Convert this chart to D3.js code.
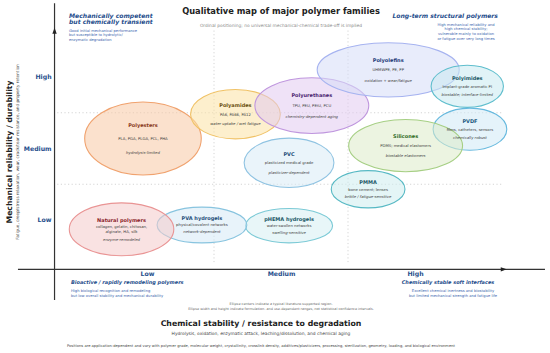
<!DOCTYPE html>
<html>
<head>
<meta charset="utf-8">
<script src="https://cdn.jsdelivr.net/npm/d3@7"></script>
<style>
body { margin: 0; background: #fff; }
svg { font-family: "DejaVu Sans", sans-serif; }
</style>
</head>
<body>
<script>
// ordinal levels used on both axes
var levels = ["Low", "Medium", "High"];

// polymer families (draw order)
var families = ["Polyesters", "Polyamides", "Polyurethanes", "Polyolefins", "Polyimides", "PVDF",
    "Silicones", "PVC", "PMMA", "pHEMA hydrogels", "PVA hydrogels", "Natural polymers"];

// ellipse centres (1 = Low, 2 = Medium, 3 = High)
var chem = [0.97, 1.66, 2.23, 2.80, 3.39, 3.41, 2.93, 2.06, 2.65, 2.06, 1.41, 0.81];
var mech = [2.14, 2.48, 2.60, 3.10, 2.87, 2.27, 2.04, 1.80, 1.43, 0.92, 0.93, 0.87];
// ellipse full width / height (ranges)
var chemRange = [0.87, 0.67, 0.85, 1.06, 0.54, 0.55, 0.85, 0.67, 0.55, 0.65, 0.67, 0.78];
var mechRange = [1.02, 0.69, 0.78, 0.76, 0.59, 0.59, 0.73, 0.69, 0.52, 0.48, 0.50, 0.74];

var details = [["PLA, PGA, PLGA, PCL, PHA"], ["PA6, PA66, PA12"], ["TPU, PEU, PEtU, PCU"],
    ["UHMWPE, PE, PP"], ["Implant-grade aromatic PI"], ["films, catheters, sensors"],
    ["PDMS; medical elastomers"], ["plasticized medical grade"], ["bone cement; lenses"],
    ["water-swollen networks"], ["physical/covalent networks"],
    ["collagen, gelatin, chitosan,", "alginate, HA, silk"]];
var notes = ["hydrolysis-limited", "water uptake / wet fatigue", "chemistry-dependent aging",
    "oxidation + wear/fatigue", "biostable; interface-limited", "chemically robust",
    "biostable elastomers", "plasticizer-dependent", "brittle / fatigue-sensitive",
    "swelling-sensitive", "network-dependent", "enzyme-remodeled"];

// fill, stroke, label colour per family
var palette = {
    "Polyesters":       ["#f8c9a4", "#f0a26e", "#8a3a1c"],
    "Polyamides":       ["#fbe2a4", "#f0c266", "#6b4f10"],
    "Polyurethanes":    ["#e2caf0", "#bf96de", "#4a2470"],
    "Polyolefins":      ["#d6ddf8", "#a6b3f0", "#1e3a78"],
    "Polyimides":       ["#c9eaf0", "#5fbecd", "#1b5866"],
    "PVDF":             ["#cfe9f5", "#66b9de", "#1c5a80"],
    "Silicones":        ["#dcebc8", "#a6cf84", "#2f6b1f"],
    "PVC":              ["#d9ebf6", "#8fc3e2", "#1f4e79"],
    "PMMA":             ["#cdecef", "#57b9c4", "#1b5866"],
    "pHEMA hydrogels":  ["#d6eff3", "#7ccad6", "#1b5866"],
    "PVA hydrogels":    ["#d6eaf5", "#88c4df", "#1f4e79"],
    "Natural polymers": ["#f4caca", "#e99494", "#8b1e2a"]
};

var W = 550, H = 353;
var svg = d3.select("body").append("svg").attr("width", W).attr("height", H);

var x = d3.scaleLinear().domain([1, 3]).range([147, 415]);
var y = d3.scaleLinear().domain([1, 3]).range([220, 77]);

var origin = 0.31;
var blue = "#1f4e8c", lightBlue = "#3b64ad";

// dotted guide lines between levels
[1.5, 2.5].forEach(function(v) {
    svg.append("line").attr("x1", x(v)).attr("x2", x(v)).attr("y1", y(3.65)).attr("y2", y(0.38))
        .attr("stroke", "#d4d4d4").attr("stroke-width", 1).attr("stroke-dasharray", "1.2,2.4");
    svg.append("line").attr("y1", y(v)).attr("y2", y(v)).attr("x1", x(0.33)).attr("x2", x(3.66))
        .attr("stroke", "#d4d4d4").attr("stroke-width", 1).attr("stroke-dasharray", "1.2,2.4");
});

// ellipses
var idx = d3.range(families.length);
var g = svg.append("g");
g.selectAll("ellipse").data(idx).enter().append("ellipse")
    .attr("cx", function(i) { return x(chem[i]); })
    .attr("cy", function(i) { return y(mech[i]); })
    .attr("rx", function(i) { return (x(chemRange[i]) - x(0)) / 2; })
    .attr("ry", function(i) { return (y(0) - y(mechRange[i])) / 2; })
    .attr("fill", function(i) { return palette[families[i]][0]; })
    .attr("fill-opacity", 0.55)
    .attr("stroke", function(i) { return palette[families[i]][1]; })
    .attr("stroke-width", 1.1);

// labels inside ellipses
idx.forEach(function(i) {
    var cx = x(chem[i]), cy = y(mech[i]);
    var h = y(0) - y(mechRange[i]);
    var t = svg.append("g").attr("text-anchor", "middle");
    t.append("text").attr("x", cx).attr("y", cy - 0.18 * h).attr("dy", "0.35em")
        .attr("font-size", 5).attr("font-weight", "bold")
        .attr("fill", palette[families[i]][2]).text(families[i]);
    var n = details[i].length;
    details[i].forEach(function(s, k) {
        t.append("text").attr("x", cx).attr("y", cy + (k - (n - 1) / 2) * 4.3).attr("dy", "0.35em")
            .attr("font-size", 3.8).attr("fill", "#3a3a3a").text(s);
    });
    t.append("text").attr("x", cx).attr("y", cy + 0.19 * h).attr("dy", "0.35em")
        .attr("font-size", 3.8).attr("font-style", "italic").attr("fill", "#3a3a3a").text(notes[i]);
});

// axis lines with arrows
svg.append("line").attr("x1", x(0.037)).attr("x2", x(3.97)).attr("y1", y(origin)).attr("y2", y(origin))
    .attr("stroke", "#333").attr("stroke-width", 1.2);
svg.append("line").attr("x1", x(origin)).attr("x2", x(origin)).attr("y1", y(-0.12)).attr("y2", y(4.03))
    .attr("stroke", "#333").attr("stroke-width", 1.2);
var ax = x(3.67), ay = y(origin);
svg.append("path").attr("d", "M" + (ax + 2) + "," + ay + "L" + (ax - 4) + "," + (ay - 2.2) + "L" + (ax - 4) + "," + (ay + 2.2) + "Z")
    .attr("fill", "#222");
var bx = x(origin), by = y(3.66);
svg.append("path").attr("d", "M" + bx + "," + (by - 2) + "L" + (bx - 2.2) + "," + (by + 4) + "L" + (bx + 2.2) + "," + (by + 4) + "Z")
    .attr("fill", "#222");

// tick labels
var xAxis = d3.axisBottom(x).tickValues([1, 2, 3]).tickSize(0).tickPadding(2)
    .tickFormat(function(d) { return levels[d - 1]; });
var gx = svg.append("g").attr("transform", "translate(0," + y(origin) + ")").call(xAxis);
var yAxis = d3.axisLeft(y).tickValues([1, 2, 3]).tickSize(0).tickPadding(3)
    .tickFormat(function(d) { return levels[d - 1]; });
var gy = svg.append("g").attr("transform", "translate(" + x(origin) + ",0)").call(yAxis);
[gx, gy].forEach(function(a) {
    a.select(".domain").remove();
    a.selectAll("text").attr("font-family", "DejaVu Sans").attr("font-size", 6.2)
        .attr("font-weight", "bold").attr("fill", blue);
});

// titles
svg.append("text").attr("x", 281).attr("y", 14).attr("text-anchor", "middle")
    .attr("font-size", 8.3).attr("font-weight", "bold").attr("fill", "#222")
    .text("Qualitative map of major polymer families");
svg.append("text").attr("x", 281).attr("y", 26.5).attr("text-anchor", "middle")
    .attr("font-size", 4.4).attr("fill", "#8a8a8a")
    .text("Ordinal positioning; no universal mechanical-chemical trade-off is implied");

svg.append("text").attr("x", 261).attr("y", 326).attr("text-anchor", "middle")
    .attr("font-size", 7.8).attr("font-weight", "bold").attr("fill", "#222")
    .text("Chemical stability / resistance to degradation");
svg.append("text").attr("x", 261).attr("y", 334.5).attr("text-anchor", "middle")
    .attr("font-size", 4.4).attr("fill", "#444")
    .text("Hydrolysis, oxidation, enzymatic attack, leaching/dissolution, and chemical aging");

svg.append("text").attr("transform", "translate(9,152) rotate(-90)").attr("dy", "0.35em")
    .attr("text-anchor", "middle").attr("font-size", 7.7).attr("font-weight", "bold").attr("fill", "#222")
    .text("Mechanical reliability / durability");
svg.append("text").attr("transform", "translate(17.3,152) rotate(-90)").attr("dy", "0.35em")
    .attr("text-anchor", "middle").attr("font-size", 4.2).attr("fill", "#444")
    .text("Fatigue, creep/stress relaxation, wear, crack/tear resistance, and property retention");

// notes
svg.append("text").attr("x", 281).attr("y", 305.3).attr("text-anchor", "middle")
    .attr("font-size", 3.4).attr("fill", "#666")
    .text("Ellipse centers indicate a typical literature-supported region.");
svg.append("text").attr("x", 281).attr("y", 310.3).attr("text-anchor", "middle")
    .attr("font-size", 3.4).attr("fill", "#666")
    .text("Ellipse width and height indicate formulation- and use-dependent ranges, not statistical confidence intervals.");
svg.append("text").attr("x", 261).attr("y", 347.3).attr("text-anchor", "middle")
    .attr("font-size", 3.7).attr("fill", "#444")
    .text("Positions are application-dependent and vary with polymer grade, molecular weight, crystallinity, crosslink density, additives/plasticizers, processing, sterilization, geometry, loading, and biological environment");

// corner annotations
function block(lines, xx, yy, anchor, size, step, color, bold) {
    var t = svg.append("text").attr("text-anchor", anchor).attr("font-size", size).attr("fill", color);
    if (bold) t.attr("font-weight", "bold").attr("font-style", "italic");
    lines.forEach(function(s, k) {
        t.append("tspan").attr("x", xx).attr("y", yy + k * step).text(s);
    });
}
block(["Mechanically competent", "but chemically transient"], 69, 17.8, "start", 6.1, 6.6, blue, true);
block(["Good initial mechanical performance", "but susceptible to hydrolytic/", "enzymatic degradation"],
    69, 31.6, "start", 3.7, 4.7, lightBlue, false);
block(["Long-term structural polymers"], 498, 17.8, "end", 6.1, 6.6, blue, true);
block(["High mechanical reliability and", "high chemical stability;", "vulnerable mainly to oxidation",
    "or fatigue over very long times"], 466, 25.6, "middle", 3.7, 4.7, lightBlue, false);
block(["Bioactive / rapidly remodeling polymers"], 71, 283.7, "start", 5, 6, blue, true);
block(["High biological recognition and remodeling", "but low overall stability and mechanical durability"],
    71, 292.3, "start", 3.7, 4.9, lightBlue, false);
block(["Chemically stable soft interfaces"], 448, 283.7, "middle", 5, 6, blue, true);
block(["Excellent chemical inertness and biostability", "but limited mechanical strength and fatigue life"],
    453, 292.3, "middle", 3.7, 4.9, lightBlue, false);
</script>
</body>
</html>
